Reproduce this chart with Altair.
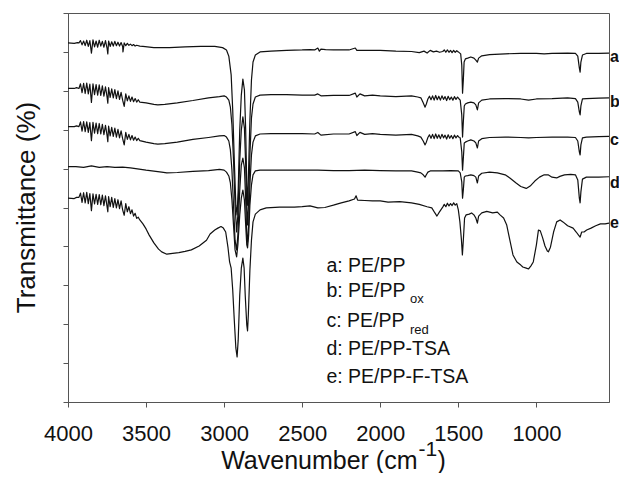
import altair as alt
import pandas as pd

# FTIR spectra (wavenumber cm-1, transmittance in arbitrary offset units, 0-100 axis)
curve_a = [(4000,92.3),(3960,92.2),(3940,92.4),
           (3930,92.3),(3920,92.9),(3910,91.8),(3900,92.8),(3890,91.6),(3880,93.0),(3870,91.4),(3860,92.9),(3850,89.7),(3840,93.1),(3830,91.3),(3820,92.8),(3810,91.2),(3800,93.0),(3790,91.5),(3780,92.7),(3770,91.2),(3760,92.9),(3750,91.0),(3745,89.5),(3740,92.8),(3730,91.4),(3720,92.6),(3710,91.5),(3700,92.7),(3690,91.6),(3680,92.5),(3670,91.5),(3660,92.4),(3650,91.4),(3648,90.0),(3640,92.3),(3630,91.6),(3620,92.2),(3610,91.7),(3600,92.0),(3590,91.6),(3580,91.9),(3570,91.5),(3560,91.7),
           (3540,91.5),(3520,91.4),(3450,91.1),(3350,91.1),(3250,91.3),(3150,91.4),(3060,91.4),(3010,91.1),(2985,90.5),(2970,88.9),(2955,84.1),(2945,75.1),(2935,62.2),(2925,50.6),(2917,48.1),(2910,54.5),(2900,69.9),(2890,78.9),(2880,83.0),(2870,80.2),(2862,69.9),(2855,55.8),(2850,50.6),(2845,57.1),(2835,72.5),(2825,82.8),(2815,87.4),(2800,89.2),(2770,90.0),(2700,90.2),(2600,90.4),(2500,90.5),(2450,90.6),(2420,90.5),(2400,91.0),(2390,90.2),(2380,90.7),(2350,90.6),(2300,90.5),(2200,90.5),(2160,91.0),(2150,90.4),(2100,90.4),(2000,90.4),(1900,90.2),(1800,90.1),(1750,89.8),(1720,90.2),(1700,89.7),(1680,90.4),(1660,90.0),(1640,90.2),(1620,89.9),
           (1600,90.1),(1590,90.5),(1580,89.9),(1570,90.5),(1560,89.9),(1550,90.4),(1540,89.8),(1530,90.4),(1520,89.9),(1510,90.3),(1500,90.0),
           (1485,89.5),(1478,86.6),(1473,79.4),(1468,82.8),(1463,87.4),(1455,88.2),(1440,88.4),(1420,88.7),(1400,88.4),(1388,87.9),(1378,87.4),(1370,88.4),(1350,89.0),(1300,89.3),(1200,89.5),(1100,89.6),(1000,89.6),(950,89.5),(900,89.6),(800,89.7),(750,89.6),(735,88.9),(725,85.9),(720,84.8),(715,87.4),(705,89.2),(680,89.6),(600,89.6),(535,89.7)]

curve_b = [(4000,80.6),(3960,80.6),(3945,80.8),
           (3930,80.6),(3920,81.8),(3910,79.5),(3900,81.9),(3890,79.3),(3880,82.0),(3870,79.2),(3860,81.7),(3850,77.0),(3840,81.8),(3830,79.0),(3820,81.6),(3810,78.9),(3800,81.5),(3790,78.8),(3780,81.3),(3770,78.6),(3760,81.0),(3750,78.5),(3745,76.8),(3740,80.8),(3730,78.3),(3720,80.5),(3710,78.2),(3700,80.3),(3690,78.0),(3680,80.0),(3670,77.8),(3660,79.6),(3650,77.6),(3640,76.0),(3630,79.2),(3620,77.4),(3610,78.7),(3600,77.3),(3590,78.4),(3580,77.2),(3570,78.0),(3560,77.1),(3550,77.7),(3540,77.1),
           (3500,76.9),(3450,76.5),(3425,76.4),(3380,76.5),(3300,76.9),(3200,77.5),(3100,78.2),(3030,78.5),(3000,78.7),(2985,78.4),(2970,77.6),(2960,75.8),(2950,71.2),(2940,62.2),(2930,50.6),(2920,43.7),(2912,48.1),(2900,62.2),(2890,69.9),(2880,73.3),(2870,70.4),(2862,60.9),(2855,49.4),(2850,45.5),(2843,51.9),(2835,63.5),(2825,73.0),(2815,76.6),(2800,78.4),(2770,78.9),(2700,79.0),(2600,79.0),(2500,78.9),(2420,78.9),(2400,79.2),(2380,78.7),(2300,78.8),(2200,78.8),(2160,79.4),(2150,78.4),(2130,79.2),(2100,78.7),(2050,78.9),(2000,78.7),(1900,78.5),(1800,78.7),(1760,78.4),(1740,78.2),(1725,76.9),(1713,75.8),(1705,76.6),
           (1695,77.9),(1685,78.6),(1675,77.7),(1665,78.7),(1655,77.6),(1645,78.8),(1635,77.7),(1625,78.6),(1615,77.6),(1605,78.7),(1595,77.8),(1585,78.5),(1575,77.5),(1565,78.6),(1555,77.7),(1545,78.4),(1535,77.6),(1525,78.5),(1515,77.8),(1505,78.4),(1495,77.9),(1488,77.6),
           (1478,73.8),(1473,68.1),(1468,72.0),(1462,76.1),(1455,76.6),(1440,76.9),(1420,77.1),(1400,76.9),(1388,76.4),(1378,75.1),(1370,76.9),(1350,77.6),(1300,77.9),(1200,78.0),(1100,77.9),(1050,77.6),(1000,77.9),(900,78.0),(800,78.2),(750,78.0),(735,77.1),(725,74.6),(720,73.8),(715,76.1),(705,77.9),(680,78.0),(600,78.1),(535,78.2)]

curve_c = [(4000,70.8),(3960,70.8),(3945,71.0),
           (3930,70.8),(3920,72.0),(3910,69.6),(3900,72.1),(3890,69.5),(3880,72.0),(3870,69.3),(3860,71.8),(3850,67.2),(3840,71.9),(3830,69.1),(3820,71.7),(3810,69.0),(3800,71.6),(3790,68.9),(3780,71.4),(3770,68.7),(3760,71.1),(3750,68.6),(3745,66.9),(3740,70.9),(3730,68.4),(3720,70.6),(3710,68.3),(3700,70.4),(3690,68.1),(3680,70.1),(3670,67.9),(3660,69.7),(3650,67.7),(3640,66.1),(3630,69.3),(3620,67.5),(3610,68.8),(3600,67.4),(3590,68.5),(3580,67.3),(3570,68.1),(3560,67.2),(3550,67.8),(3540,67.2),
           (3500,66.8),(3450,66.4),(3425,66.3),(3380,66.4),(3300,66.8),(3200,67.5),(3100,68.0),(3030,68.4),(3000,68.5),(2985,68.1),(2970,67.1),(2960,64.8),(2950,59.6),(2940,50.6),(2930,41.6),(2920,39.1),(2912,42.9),(2900,54.5),(2890,60.9),(2880,62.7),(2870,60.2),(2862,51.9),(2855,42.9),(2850,41.1),(2843,45.5),(2835,55.8),(2825,63.5),(2815,66.8),(2800,68.4),(2770,68.9),(2700,69.0),(2600,69.0),(2500,69.0),(2420,68.9),(2400,69.3),(2380,68.6),(2300,68.9),(2200,68.9),(2160,69.5),(2150,68.5),(2130,69.3),(2100,68.8),(2050,69.0),(2000,68.8),(1900,68.6),(1800,68.8),(1760,68.4),(1740,68.1),(1725,67.1),(1713,66.1),(1705,66.8),
           (1695,68.0),(1685,68.7),(1675,67.8),(1665,68.8),(1655,67.7),(1645,68.9),(1635,67.8),(1625,68.7),(1615,67.7),(1605,68.8),(1595,67.9),(1585,68.6),(1575,67.6),(1565,68.7),(1555,67.8),(1545,68.5),(1535,67.7),(1525,68.6),(1515,67.9),(1505,68.5),(1495,68.0),(1488,67.9),
           (1478,64.3),(1473,59.6),(1468,62.7),(1462,66.6),(1455,66.8),(1440,67.1),(1420,67.4),(1400,67.1),(1388,66.6),(1378,65.3),(1370,67.1),(1350,67.7),(1300,68.0),(1200,68.1),(1100,68.0),(1050,67.9),(1000,68.0),(900,68.1),(800,68.1),(750,68.0),(735,67.1),(725,64.3),(720,63.5),(715,66.1),(705,67.9),(680,68.1),(600,68.2),(535,68.3)]

curve_d = [(4000,60.5),(3950,60.5),(3900,60.3),(3850,60.7),(3800,60.3),(3750,60.5),(3700,60.3),(3650,60.4),(3600,60.2),(3500,59.6),(3400,59.1),(3367,58.9),(3300,59.0),(3200,59.3),(3100,59.5),(3030,59.8),(3000,59.6),(2985,59.1),(2970,58.1),(2960,56.3),(2950,51.9),(2940,45.5),(2930,39.1),(2920,37.3),(2912,40.4),(2900,48.1),(2890,52.4),(2880,54.5),(2870,51.9),(2862,45.5),(2855,40.4),(2850,39.6),(2843,42.9),(2835,50.6),(2825,55.8),(2815,58.4),(2800,59.4),(2770,59.6),(2600,59.6),(2500,59.6),(2400,59.6),(2300,59.5),(2200,59.5),(2100,59.6),(2000,59.5),(1900,59.4),(1800,59.4),(1760,59.1),(1740,58.9),(1725,58.4),(1713,57.8),(1705,58.4),(1695,59.1),(1680,59.4),(1600,59.4),(1550,59.5),(1500,59.4),(1488,58.9),(1478,56.6),(1473,52.4),(1468,54.5),(1462,57.8),(1455,58.1),(1440,58.2),(1420,58.4),(1400,58.2),(1388,57.8),(1378,56.3),(1370,58.1),(1350,58.8),(1300,59.1),(1250,58.9),(1200,58.4),(1170,57.6),(1130,56.3),(1100,55.4),(1065,54.9),(1040,55.5),(1010,56.8),(980,57.8),(950,58.4),(925,58.4),(900,57.8),(870,57.6),(850,58.0),(820,58.4),(780,58.5),(750,58.4),(735,57.1),(725,52.4),(720,51.2),(715,54.0),(705,57.3),(680,57.8),(600,57.8),(535,57.9)]

curve_e = [(4000,52.4),(3960,52.3),(3945,52.6),
           (3930,52.6),(3920,53.7),(3910,51.3),(3900,53.8),(3890,51.2),(3880,53.9),(3870,51.0),(3860,53.6),(3850,49.2),(3840,53.5),(3830,50.9),(3820,53.4),(3810,50.8),(3800,53.3),(3790,50.7),(3780,53.2),(3770,50.5),(3760,53.0),(3750,50.3),(3745,48.9),(3740,52.8),(3730,50.2),(3720,52.6),(3710,50.0),(3700,52.3),(3690,49.9),(3680,52.0),(3670,49.7),(3660,51.7),(3650,49.4),(3640,48.0),(3630,51.0),(3620,48.9),(3610,50.2),(3600,48.4),(3590,49.4),(3580,47.8),(3570,48.5),(3560,47.2),(3550,47.5),(3540,46.8),
           (3520,45.8),(3500,44.5),(3480,42.9),(3450,40.9),(3420,39.3),(3400,38.6),(3367,38.0),(3330,38.2),(3290,38.4),(3250,38.7),(3210,39.1),(3160,40.1),(3113,41.6),(3090,43.2),(3060,44.2),(3040,44.7),(3020,45.1),(3005,44.7),(2990,43.7),(2975,39.6),(2965,36.0),(2955,34.4),(2945,28.8),(2935,21.1),(2925,13.9),(2917,11.6),(2910,15.9),(2900,27.5),(2890,34.4),(2880,37.0),(2872,34.4),(2865,27.5),(2855,19.8),(2850,18.3),(2845,22.4),(2835,33.9),(2825,41.6),(2815,46.3),(2800,48.3),(2770,49.4),(2730,49.9),(2645,50.1),(2550,50.1),(2500,50.2),(2450,50.4),(2400,49.9),(2355,50.0),(2300,50.6),(2250,51.2),(2200,51.7),(2165,52.2),(2155,53.0),(2145,51.9),(2100,51.8),(2050,51.7),(2000,51.7),(1950,51.4),(1875,51.5),(1800,51.2),(1750,50.8),(1700,50.2),(1670,49.9),(1650,48.6),(1637,47.8),(1625,48.6),
           (1600,50.1),(1590,50.8),(1580,50.2),(1570,51.1),(1560,50.4),(1550,51.0),(1540,50.5),(1530,51.2),(1520,50.6),(1510,51.0),(1500,49.4),
           (1490,46.3),(1480,41.6),(1474,37.8),(1468,41.6),(1460,47.3),(1450,48.1),(1430,48.3),(1415,48.6),(1400,48.1),(1388,47.3),(1378,46.0),(1370,47.8),(1350,48.6),(1318,49.0),(1280,48.6),(1250,48.8),(1233,48.1),(1210,47.3),(1190,45.5),(1170,41.6),(1150,37.8),(1125,36.0),(1100,35.2),(1087,34.7),(1065,34.4),(1050,34.2),(1035,35.0),(1020,36.0),(1000,40.4),(987,44.2),(975,44.0),(960,42.2),(945,40.1),(930,38.8),(923,38.6),(910,39.8),(890,43.7),(870,46.3),(848,46.8),(830,46.3),(800,45.3),(765,44.7),(745,43.7),(730,42.9),(720,42.4),(710,43.7),(695,43.7),(678,44.2),(650,44.7),(620,45.3),(590,45.8),(560,45.8),(535,46.0)]

series_names = ["a", "b", "c", "d", "e"]
legend_lines = ["a: PE/PP", "b: PE/PP", "c: PE/PP", "d: PE/PP-TSA", "e: PE/PP-F-TSA"]
subscripts = ["ox", "red"]
x_ticks = [4000, 3500, 3000, 2500, 2000, 1500, 1000]
y_ticks = [0, 10, 20, 30, 40, 50, 60, 70, 80, 90, 100]

rows = []
for name, curve in zip(series_names, [curve_a, curve_b, curve_c, curve_d, curve_e]):
    for wn, t in curve:
        rows.append({"wn": wn, "t": t, "sample": name})
df = pd.DataFrame(rows)

FONT = "Liberation Sans"

lines = alt.Chart(df).mark_line(color="#111111", strokeWidth=1.2, strokeJoin="round").encode(
    x=alt.X("wn:Q",
            scale=alt.Scale(domain=[535, 4000], reverse=True, nice=False, zero=False),
            axis=alt.Axis(values=x_ticks, title=None, grid=False, labelFontSize=22,
                          labelFont=FONT, labelColor="#111111", tickSize=5, labelPadding=16,
                          labelFlush=False, domainColor="#555555", tickColor="#555555",
                          format="d")),
    y=alt.Y("t:Q",
            scale=alt.Scale(domain=[0, 100], nice=False, zero=False),
            axis=alt.Axis(values=y_ticks, labels=False, title=None, grid=False,
                          tickSize=5, domainColor="#555555", tickColor="#555555")),
    detail="sample:N",
)


def txt(text, x, y, size, weight="normal", align="left", angle=0):
    return alt.Chart(pd.DataFrame({"s": [text]})).mark_text(
        font=FONT, fontSize=size, fontWeight=weight, align=align,
        baseline="alphabetic", angle=angle, color="#111111"
    ).encode(text="s:N", x=alt.value(x), y=alt.value(y))


layers = [lines]
# right-side curve letters
for letter, yb in zip(series_names, [48.7, 94.3, 132.0, 175.3, 215.3]):
    layers.append(txt(letter, 542.0, yb, 16, weight="bold"))
# legend text
for line, yb in zip(legend_lines, [258.7, 283.7, 313.7, 342.0, 370.3]):
    layers.append(txt(line, 258.4, yb, 19.5))
layers.append(txt(subscripts[0], 342.0, 290.3, 13))
layers.append(txt(subscripts[1], 342.0, 321.0, 13))
# axis titles
layers.append(txt("Transmittance (%)", -33, 194.5, 26, align="center", angle=270))
layers.append(txt("Wavenumber (cm", 349.5, 455.5, 25, align="right"))
layers.append(txt("-1", 350.5, 442.5, 21))
layers.append(txt(")", 369.5, 455.5, 25))

chart = alt.layer(*layers).properties(
    width=541, height=389,
    autosize=alt.AutoSizeParams(type="none"),
    padding={"left": 60, "top": 5, "right": 10, "bottom": 71},
).configure_view(stroke="#555555", strokeWidth=1)

chart.save("out.html", embed_options={"renderer": "svg", "actions": False})
